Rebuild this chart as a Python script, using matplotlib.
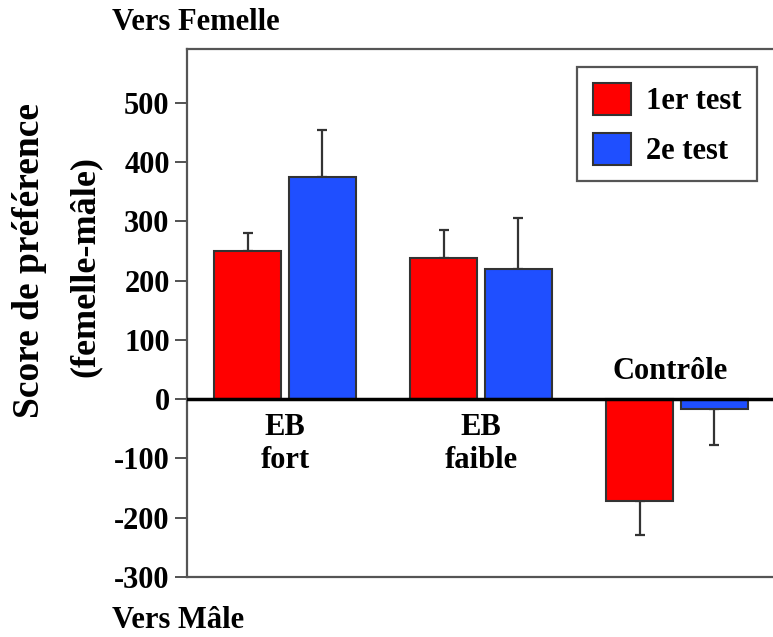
import numpy as np
from matplotlib import pyplot as plt

plt.rcParams['font.family'] = ['Liberation Serif', 'DejaVu Serif']
plt.rcParams['font.weight'] = 'bold'

# data
groups = ['EB\nfort', 'EB\nfaible', 'Contrôle']
test1 = [250, 238, -172]
test1_err = [31, 48, 57]
test2 = [374, 219, -17]
test2_err = [80, 86, 60]
series_names = ['1er test', '2e test']
yticks = [-300, -200, -100, 0, 100, 200, 300, 400, 500]

red = '#ff0000'
blue = '#1f4fff'
edge = '#333333'

fig = plt.figure(figsize=(7.73, 6.37), dpi=100)
ax = fig.add_axes([187/773, 1-577/637, 588/773, 527.7/637])

x = np.arange(len(groups))
w = 0.34
off = 0.19


def one_sided(vals, errs):
    vals = np.array(vals)
    errs = np.array(errs)
    lo = np.where(vals < 0, errs, 0)
    hi = np.where(vals >= 0, errs, 0)
    return [lo, hi]


ax.bar(x - off, test1, w, color=red, edgecolor=edge, linewidth=1.5, label=series_names[0], zorder=3)
ax.bar(x + off, test2, w, color=blue, edgecolor=edge, linewidth=1.5, label=series_names[1], zorder=3)
ax.errorbar(x - off, test1, yerr=one_sided(test1, test1_err), fmt='none', ecolor=edge,
            elinewidth=1.6, capsize=3.8, capthick=1.6, zorder=2)
ax.errorbar(x + off, test2, yerr=one_sided(test2, test2_err), fmt='none', ecolor=edge,
            elinewidth=1.6, capsize=3.8, capthick=1.6, zorder=2)

ax.axhline(0, color='black', linewidth=2.5, zorder=4)

ax.set_xlim(-0.5, 2.5)
ax.set_ylim(-300, 590)
ax.set_yticks(yticks)
ax.set_yticklabels([str(t) for t in yticks])
ax.set_xticks([])
ax.tick_params(axis='y', length=8.5, width=1.3, pad=4, labelsize=22, color='#444444')

for s in ['left', 'top', 'bottom']:
    ax.spines[s].set_color('#555555')
    ax.spines[s].set_linewidth(1.6)
ax.spines['right'].set_visible(False)

# group labels
for i in range(2):
    ax.text(x[i], -76, groups[i], ha='center', va='center', fontsize=22, linespacing=1.2)
ax.text(x[2] - 0.035, 46, groups[2], ha='center', va='center', fontsize=22)

leg = ax.legend(loc='upper left', bbox_to_anchor=(0.664, 0.966), fontsize=22,
                handlelength=1.25, handleheight=1.25, handletextpad=0.5,
                labelspacing=0.55, borderpad=0.5, borderaxespad=0,
                fancybox=False, framealpha=1)
leg.get_frame().set_edgecolor('#555555')
leg.get_frame().set_linewidth(1.6)

fig.text(112/773, 1-22/637, 'Vers Femelle', ha='left', va='center', fontsize=22)
fig.text(112/773, 1-620/637, 'Vers Mâle', ha='left', va='center', fontsize=22)
fig.text(30/773, 1-261/637, 'Score de préférence', rotation=90, ha='center', va='center', fontsize=27)
fig.text(85/773, 1-266/637, '(femelle-mâle)', rotation=90, ha='center', va='center', fontsize=26)

plt.savefig('out.png', dpi=100)
